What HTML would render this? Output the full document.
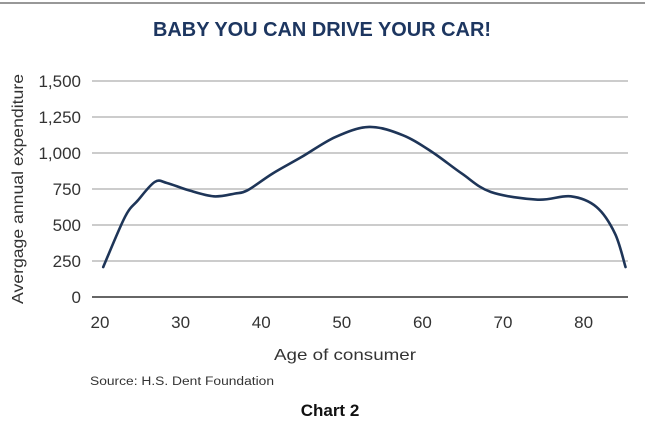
<!DOCTYPE html>
<html><head><meta charset="utf-8"><style>
html,body{margin:0;padding:0;background:#fff;}
svg{display:block;font-family:"Liberation Sans",sans-serif;}
</style></head><body>
<svg id="chart" width="656" height="432" viewBox="0 0 656 432">
<line x1="0" y1="3" x2="645" y2="3" stroke="#777" stroke-width="1.5"/>
<text x="322" y="36" text-anchor="middle" font-size="20" font-weight="bold" fill="#1d3660" textLength="338" lengthAdjust="spacingAndGlyphs">BABY YOU CAN DRIVE YOUR CAR!</text>
<g id="grid"></g>
<g id="yticks"></g>
<g id="xticks"></g>
<path id="line" fill="none" stroke="#1e3558" stroke-width="2.6" stroke-linejoin="round" stroke-linecap="round"/>
<text transform="translate(23,189) rotate(-90)" text-anchor="middle" font-size="16" fill="#333" textLength="230" lengthAdjust="spacingAndGlyphs">Avergage annual expenditure</text>
<text x="345" y="360" text-anchor="middle" font-size="16" fill="#333" textLength="142" lengthAdjust="spacingAndGlyphs">Age of consumer</text>
<text x="90" y="385" font-size="11.5" fill="#333" textLength="184" lengthAdjust="spacingAndGlyphs">Source: H.S. Dent Foundation</text>
<text x="330" y="416" text-anchor="middle" font-size="17" font-weight="bold" fill="#111">Chart 2</text>
</svg>
<script>
const ages = [20.4,23.1,24.7,26.8,28.3,31,34.1,36.7,38.3,41.4,45,49.2,53.4,57.6,61.2,64.9,68.5,74.3,78.4,81.6,83.9,85.2];
const spend = [208,556,671,799,792,741,699,718,741,857,972,1111,1181,1123,1007,857,729,676,699,625,440,208];
const yTicks = [0,250,500,750,1000,1250,1500];
const yTickLabels = ["0","250","500","750","1,000","1,250","1,500"];
const xTicks = [20,30,40,50,60,70,80];

const X0=92,X1=628;
function xs(a){return 100+(a-20)*8.06;}
function ys(v){return 297-v*(297-81)/1500;}
const NS="http://www.w3.org/2000/svg";
const grid=document.getElementById('grid'),yt=document.getElementById('yticks'),xt=document.getElementById('xticks');
yTicks.forEach((v,i)=>{
  const l=document.createElementNS(NS,'line');
  l.setAttribute('x1',X0);l.setAttribute('x2',X1);l.setAttribute('y1',ys(v));l.setAttribute('y2',ys(v));
  l.setAttribute('stroke',v===0?'#666':'#bbb');l.setAttribute('stroke-width',v===0?2:1.6);
  
  
  grid.appendChild(l);
  const t=document.createElementNS(NS,'text');
  t.setAttribute('x',81);t.setAttribute('y',ys(v)+6);t.setAttribute('text-anchor','end');
  t.setAttribute('font-size','17');t.setAttribute('fill','#333');t.textContent=yTickLabels[i];
  
  
  yt.appendChild(t);
});
xTicks.forEach(a=>{
  const t=document.createElementNS(NS,'text');
  t.setAttribute('x',xs(a));t.setAttribute('y',328);t.setAttribute('text-anchor','middle');
  t.setAttribute('font-size','17');t.setAttribute('fill','#333');t.textContent=a;
  
  
  xt.appendChild(t);
});
const P=ages.map((a,i)=>[xs(a),ys(spend[i])]);
let d='M'+P[0][0]+','+P[0][1];
for(let i=0;i<P.length-1;i++){
  const p0=P[i-1]||P[i],p1=P[i],p2=P[i+1],p3=P[i+2]||P[i+1];
  const c1=[p1[0]+(p2[0]-p0[0])/6,p1[1]+(p2[1]-p0[1])/6];
  const c2=[p2[0]-(p3[0]-p1[0])/6,p2[1]-(p3[1]-p1[1])/6];
  d+=' C'+c1+' '+c2+' '+p2;
}
document.getElementById('line').setAttribute('d',d);
</script>
</body></html>
